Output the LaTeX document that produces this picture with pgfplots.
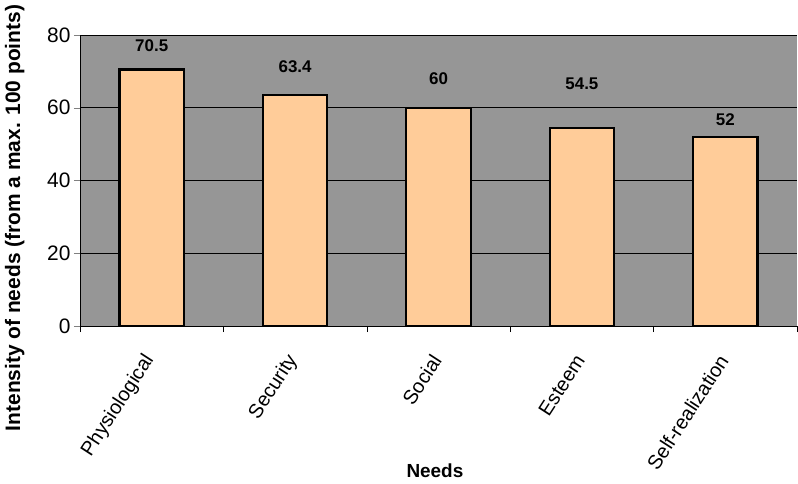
\documentclass[border=0pt]{standalone}
\usepackage{pgfplots}
\pgfplotsset{compat=1.18}
\usepackage{fontspec}
\setmainfont{Liberation Sans}
\definecolor{plotgray}{HTML}{969696}
\definecolor{barfill}{HTML}{FFCC99}
\begin{document}
\begin{tikzpicture}
\useasboundingbox (-80bp,-158bp) rectangle (718bp,326bp);
\begin{axis}[
  at={(0,0)}, anchor=south west,
  scale only axis, width=717bp, height=291bp,
  xmin=-0.5, xmax=4.5, ymin=0, ymax=80,
  axis background/.style={fill=plotgray},
  axis x line*=bottom, axis y line*=left,
  axis line style={black, line width=0.8pt},
  ytick={0,20,40,60,80},
  ymajorgrids, grid style={black, line width=0.6pt},
  tick align=outside, major tick length=6bp, minor tick length=6bp,
  xtick={0,1,2,3,4},
  xticklabels={Physiological,Security,Social,Esteem,Self-realization},
  minor xtick={-0.5,0.5,1.5,2.5,3.5,4.5},
  major x tick style={draw=none},
  minor x tick style={draw=black, line width=0.6pt},
  xticklabel style={rotate=57, anchor=east, font=\fontsize{20}{20}\selectfont},
  xticklabel shift=22bp,
  yticklabel style={font=\fontsize{21}{21}\selectfont},
  /pgf/number format/assume math mode=true,
  xlabel={\textbf{Needs}}, xlabel style={font=\fontsize{19}{19}\selectfont, at={(axis description cs:0.495,0)}, anchor=north, yshift=-134bp},
  ylabel={\textbf{Intensity of needs (from a max. 100 points)}},
  ylabel style={font=\fontsize{21}{21}\selectfont, at={(axis description cs:-0.0725,0.371)}, anchor=south},
  ybar, bar width=0.45,
  clip=false,
]
\addplot[fill=barfill, draw=black, line width=2.2pt] coordinates {(0,70.5) (1,63.4) (2,60) (3,54.5) (4,52)};
\addplot[draw=none, only marks, mark=none, nodes near coords, point meta=explicit symbolic,
  nodes near coords style={font=\fontsize{17}{17}\selectfont\bfseries, anchor=center}]
  table[meta=lab] {
x y lab
0 77.0 70.5
1 71.2 63.4
2 67.9 60
3 66.5 54.5
4 56.8 52
};
\end{axis}
\end{tikzpicture}
\end{document}
